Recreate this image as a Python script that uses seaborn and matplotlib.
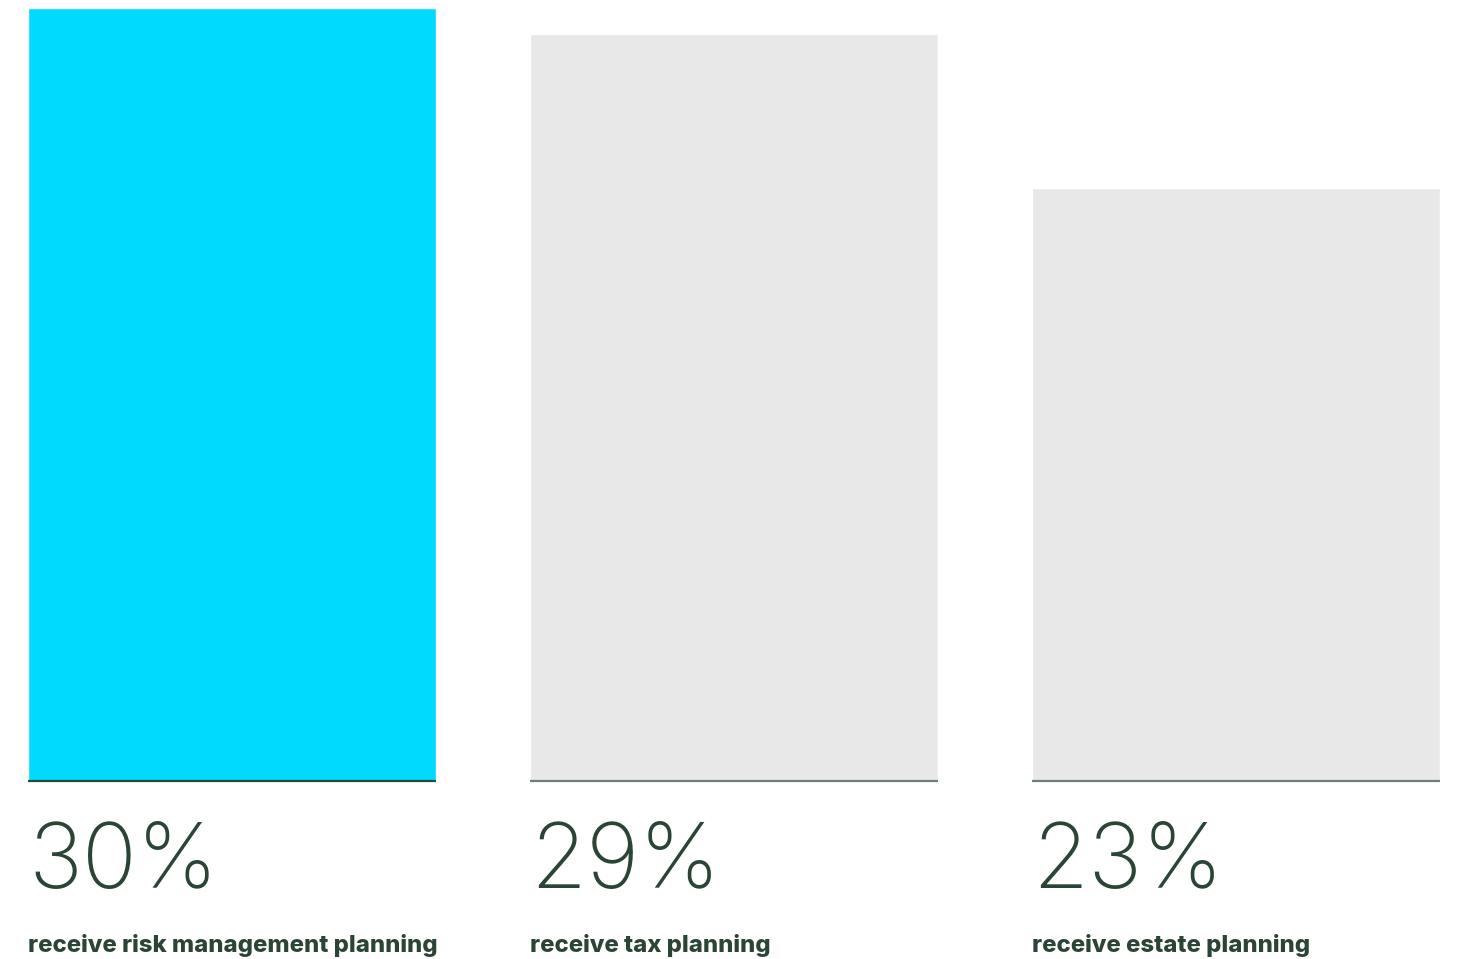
import matplotlib
matplotlib.use("Agg")
import matplotlib.pyplot as plt
import matplotlib.transforms as mtransforms
import seaborn as sns
import pandas as pd

# Share of clients receiving each planning service
categories = ["receive risk management planning", "receive tax planning", "receive estate planning"]
values = [30, 29, 23]
value_labels = ["30%", "29%", "23%"]
bar_colors = ["#00DAFF", "#E8E8E8", "#E8E8E8"]
base_colors = ["#1F4A3C", "#6E7F77", "#6E7F77"]

TEXT = "#2A4535"

sns.set_theme(style="white")
plt.rcParams["font.family"] = ["Inter", "DejaVu Sans"]

df = pd.DataFrame({"category": categories, "value": values})

fig = plt.figure(figsize=(14.59, 9.59), dpi=100)
ax = fig.add_axes([0, 0, 1, 1])

bar_width = 408 / 502
sns.barplot(data=df, x="category", y="value", hue="category",
            palette=bar_colors, width=bar_width, legend=False,
            saturation=1, ax=ax)

ax.set_xlim(-232 / 502, (1459 - 232) / 502)
px_per_unit = 773 / 30
ax.set_ylim(-178 / px_per_unit, (959 - 178) / px_per_unit)

for spine in ax.spines.values():
    spine.set_visible(False)
ax.set_xticks([])
ax.set_yticks([])
ax.set_xlabel("")
ax.set_ylabel("")

trans = mtransforms.blended_transform_factory(ax.transData, ax.transAxes)
for i, (lab, vlab, bc) in enumerate(zip(categories, value_labels, base_colors)):
    left = i - bar_width / 2
    right = i + bar_width / 2
    ax.hlines(0, left, right, colors=bc, linewidth=1.6, zorder=3)
    ax.text(left, 71 / 959, vlab, transform=trans, fontsize=65.5,
            fontweight="light", color=TEXT, va="baseline", ha="left")
    ax.text(left, 7 / 959, lab, transform=trans, fontsize=17.2,
            fontweight=800, color=TEXT, va="baseline", ha="left")

fig.savefig("out.png", dpi=100, facecolor="white")
